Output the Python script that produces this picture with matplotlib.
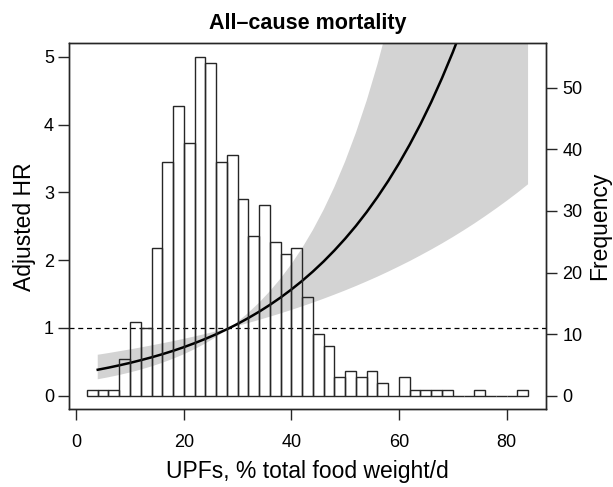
import numpy as np
import matplotlib
matplotlib.use("Agg")
import matplotlib.pyplot as plt

plt.rcParams['font.family'] = ['Liberation Sans', 'DejaVu Sans']

# histogram of UPF intake (bin left edges, width 2)
bin_left = list(range(2, 84, 2))
counts = [1, 1, 1, 6, 12, 11, 24, 38, 47, 41,
          55, 54, 38, 39, 32, 26, 31, 25, 23, 24,
          16, 10, 8, 3, 4, 3, 4, 2, 0, 3,
          1, 1, 1, 1, 0, 0, 1, 0, 0, 0, 1]

# adjusted HR curve with 95% CI
upf = [4, 6, 8, 10, 12, 14, 16, 18, 20, 22, 24, 26, 28.5, 30, 32, 34, 36, 38, 40,
       42, 44, 46, 48, 50, 52, 54, 56, 58, 60, 62, 64, 66, 68, 70, 72, 74, 76,
       78, 80, 82, 84]
hr = [0.384, 0.415, 0.449, 0.485, 0.525, 0.567, 0.613, 0.663, 0.717, 0.776, 0.839,
      0.907, 1.0, 1.060, 1.147, 1.240, 1.341, 1.450, 1.568, 1.695, 1.833, 1.982,
      2.144, 2.318, 2.506, 2.710, 2.931, 3.169, 3.427, 3.706, 4.007, 4.333, 4.686,
      5.066, 5.479, 5.924, 6.407, 6.927, 7.491, 8.100, 8.759]
hr_lo = [0.243, 0.273, 0.306, 0.344, 0.386, 0.433, 0.486, 0.546, 0.612, 0.687, 0.771,
         0.866, 1.0, 1.031, 1.074, 1.119, 1.166, 1.215, 1.266, 1.319, 1.374, 1.432,
         1.492, 1.554, 1.619, 1.687, 1.757, 1.831, 1.908, 1.987, 2.071, 2.157, 2.247,
         2.341, 2.439, 2.541, 2.648, 2.759, 2.874, 2.994, 3.120]
hr_hi = [0.605, 0.630, 0.657, 0.684, 0.713, 0.743, 0.774, 0.806, 0.840, 0.875, 0.912,
         0.950, 1.0, 1.090, 1.224, 1.373, 1.542, 1.730, 1.942, 2.179, 2.446, 2.745,
         3.081, 3.458, 3.881, 4.355, 4.888, 5.486, 6.157, 6.910, 7.755, 8.704, 9.769,
         10.96, 12.31, 13.81, 15.50, 17.39, 19.52, 21.91, 24.59]

edge = '#262626'

fig = plt.figure(figsize=(6.13, 4.87), dpi=100)
ax = fig.add_axes([0.1131, 0.1595, 0.7771, 0.7516])
ax2 = ax.twinx()

ax.fill_between(upf, hr_lo, hr_hi, color='#d3d3d3', lw=0, zorder=1)
ax.plot(upf, hr, color='black', lw=1.8, zorder=3)
ax.axhline(1, color='black', lw=0.9, ls=(0, (4, 3)), zorder=2)

ax2.bar(bin_left, counts, width=2, align='edge', facecolor='none',
        edgecolor=edge, linewidth=1.0)

ax.set_xlim(-1.28, 87.28)
ax.set_ylim(-0.2, 5.2)
ax2.set_ylim(-2.2, 57.2)

ax.set_xticks(range(0, 81, 20))
ax.set_yticks(range(0, 6))
ax2.set_yticks(range(0, 51, 10))

for a in (ax, ax2):
    for s in a.spines.values():
        s.set_color(edge)
        s.set_linewidth(1.0)
    a.tick_params(length=8, width=1.0, color=edge, labelsize=13, direction='out')
ax.tick_params(axis='x', pad=10)
ax.tick_params(axis='y', pad=3)
ax2.tick_params(axis='y', pad=4)

ax.set_title('All–cause mortality', fontsize=15.5, fontweight='bold', pad=10)
ax.set_xlabel('UPFs, % total food weight/d', fontsize=16.5, labelpad=6)
ax.set_ylabel('Adjusted HR', fontsize=16.5, labelpad=6)
ax2.set_ylabel('Frequency', fontsize=16.5, labelpad=4)

fig.savefig('out.png', dpi=100)
